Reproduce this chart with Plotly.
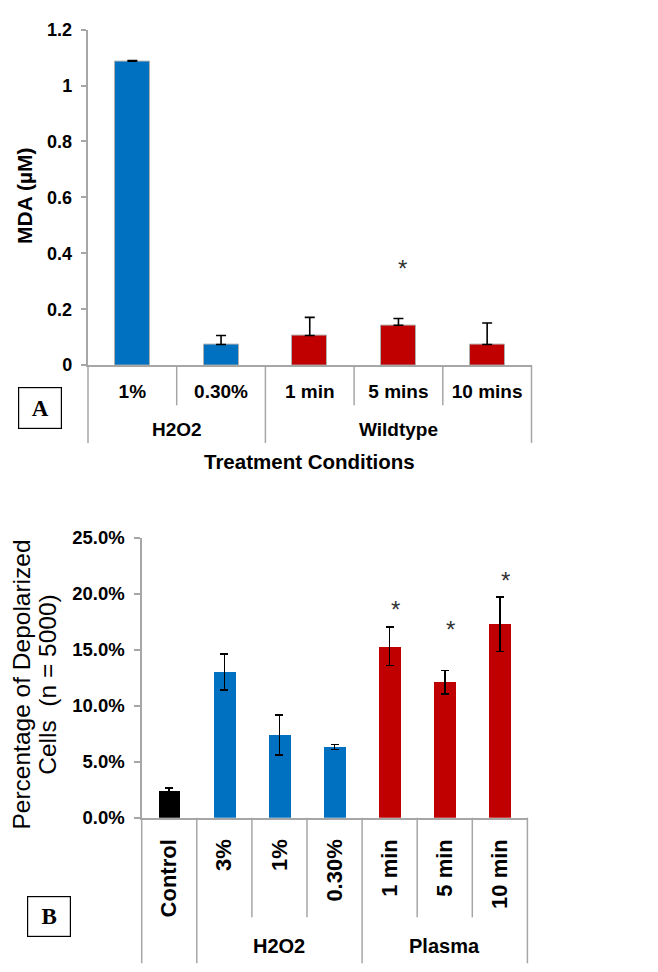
import plotly.graph_objects as go

# ---------------- Panel A data ----------------
a_labels = ["1%", "0.30%", "1 min", "5 mins", "10 mins"]
a_groups = ["H2O2", "H2O2", "Wildtype", "Wildtype", "Wildtype"]
a_values = [1.087, 0.074, 0.106, 0.143, 0.074]
a_errors = [0.002, 0.032, 0.065, 0.024, 0.077]
a_colors = ["#0070C0", "#0070C0", "#C00000", "#C00000", "#C00000"]
a_star_y = [None, None, None, 0.35, None]
a_ticks = [0, 0.2, 0.4, 0.6, 0.8, 1.0, 1.2]

# ---------------- Panel B data ----------------
b_labels = ["Control", "3%", "1%", "0.30%", "1 min", "5 min", "10 min"]
b_groups = ["", "H2O2", "H2O2", "H2O2", "Plasma", "Plasma", "Plasma"]
b_values = [0.0243, 0.130, 0.0738, 0.0631, 0.1530, 0.1210, 0.1728]
b_errors = [0.0021, 0.016, 0.018, 0.0022, 0.017, 0.0105, 0.0245]
b_colors = ["#000000", "#0070C0", "#0070C0", "#0070C0", "#C00000", "#C00000", "#C00000"]
b_star_y = [None, None, None, None, 0.1902, 0.1728, 0.2164]
b_ticks = [0, 0.05, 0.10, 0.15, 0.20, 0.25]

W, H = 658, 972
GRAY = "#a6a6a6"
FONT = "Liberation Sans"

a_range = [-0.5, len(a_labels) - 0.5]
b_range = [-0.5, len(b_labels) - 0.5]

fig = go.Figure()
fig.add_trace(go.Bar(
    x=a_labels, y=a_values, width=0.395,
    marker=dict(color=a_colors, line=dict(color="#b0b0b0", width=1)),
    error_y=dict(type="data", array=a_errors, arrayminus=[0] * len(a_errors),
                 symmetric=False, color="black", thickness=1.6, width=5),
    xaxis="x", yaxis="y", showlegend=False))
fig.add_trace(go.Bar(
    x=b_labels, y=b_values, width=0.395,
    marker=dict(color=b_colors, line=dict(width=0)),
    error_y=dict(type="data", array=b_errors, color="black", thickness=1.6, width=4),
    xaxis="x2", yaxis="y2", showlegend=False))

bold = dict(family=FONT, color="black", weight="bold")

fig.update_layout(
    width=W, height=H, margin=dict(l=0, r=0, t=0, b=0),
    paper_bgcolor="white", plot_bgcolor="white", bargap=0,
    xaxis=dict(domain=[88 / W, 531.5 / W], range=a_range, type="category",
               showline=True, linecolor=GRAY, linewidth=1.5, ticks="",
               showgrid=False, tickfont=dict(bold, size=19),
               ticklabelstandoff=8, fixedrange=True),
    yaxis=dict(domain=[610 / H, 953 / H], range=[0, 1.2], tickvals=a_ticks,
               showline=True, linecolor=GRAY, linewidth=1.5, ticks="outside",
               ticklen=5.5, tickwidth=1.5, tickcolor=GRAY, showgrid=False,
               zeroline=False, tickfont=dict(bold, size=18), ticklabelstandoff=5),
    xaxis2=dict(domain=[141.7 / W, 527.4 / W], range=b_range, type="category",
                showline=True, linecolor=GRAY, linewidth=1.5, ticks="",
                showgrid=False, tickangle=-90, tickfont=dict(bold, size=22),
                ticklabelstandoff=11, anchor="y2"),
    yaxis2=dict(domain=[147.5 / H, 433.7 / H], range=[0, 0.25], tickvals=b_ticks,
                tickformat=".1%", showline=True, linecolor=GRAY, linewidth=1.5,
                ticks="outside", ticklen=5.5, tickwidth=1.5, tickcolor=GRAY,
                showgrid=False, zeroline=False, tickfont=dict(bold, size=18.5),
                ticklabelstandoff=6, anchor="x2"),
)


def frac(v, rng):
    return (v - rng[0]) / (rng[1] - rng[0])


def dividers(groups, rng, xref, yref, inner_len, outer_len):
    n = len(groups)
    for k in range(n + 1):
        f = frac(k - 0.5, rng)
        outer = k == 0 or k == n or groups[k - 1] != groups[k]
        y1 = -outer_len if outer else -inner_len
        fig.add_shape(type="line", xref=xref, yref=yref, x0=f, x1=f, y0=0, y1=y1,
                      line=dict(color=GRAY, width=1.5))


dividers(a_groups, a_range, "x domain", "y domain", 0.1195, 0.232)
dividers(b_groups, b_range, "x2 domain", "y2 domain", 0.356, 0.52)


def group_labels(groups, xref, ypaper, size):
    seen = []
    for g in groups:
        if g and g not in seen:
            seen.append(g)
    for g in seen:
        idx = [i for i, gg in enumerate(groups) if gg == g]
        xc = sum(idx) / len(idx)
        fig.add_annotation(x=xc, xref=xref, y=ypaper, yref="paper", text=g,
                           showarrow=False, xanchor="center", yanchor="middle",
                           font=dict(bold, size=size))


group_labels(a_groups, "x", (H - 428) / H, 19)
group_labels(b_groups, "x2", (H - 956) / H, 20)

fig.add_annotation(x=(len(a_labels) - 1) / 2, xref="x", y=(H - 460) / H, yref="paper",
                   text="Treatment Conditions", showarrow=False,
                   xanchor="center", yanchor="middle", font=dict(bold, size=20.5))

# significance stars
for lab, sy in zip(a_labels, a_star_y):
    if sy is not None:
        fig.add_annotation(x=lab, y=sy, xref="x", yref="y", text="*", showarrow=False,
                           xshift=4, yshift=-1, font=dict(family=FONT, size=24, color="#333333"))
for lab, sy in zip(b_labels, b_star_y):
    if sy is not None:
        fig.add_annotation(x=lab, y=sy, xref="x2", yref="y2", text="*", showarrow=False,
                           xshift=6, yshift=-5, font=dict(family=FONT, size=24, color="#333333"))

# y-axis titles
fig.add_annotation(x=25 / W, y=(H - 189) / H, xref="paper", yref="paper",
                   text="MDA (µM)", textangle=-90, showarrow=False,
                   xanchor="center", yanchor="middle", font=dict(bold, size=21))
fig.add_annotation(x=21.4 / W, y=(H - 688) / H, xref="paper", yref="paper",
                   text="Percentage of Depolarized", textangle=-90,
                   showarrow=False, xanchor="center", yanchor="middle",
                   font=dict(family=FONT, size=24.5, color="black"))
fig.add_annotation(x=47.6 / W, y=(H - 689) / H, xref="paper", yref="paper",
                   text="Cells\u00a0 (n = 5000)", textangle=-90,
                   showarrow=False, xanchor="center", yanchor="middle",
                   font=dict(family=FONT, size=24.5, color="black"))

# panel letters
fig.add_annotation(x=40 / W, y=(H - 406) / H, xref="paper", yref="paper", text="A",
                   showarrow=False, xanchor="center", yanchor="middle", width=42, height=40,
                   borderpad=0, bordercolor="black", borderwidth=1.2,
                   font=dict(family="Liberation Serif", size=23, color="black", weight="bold"))
fig.add_annotation(x=49 / W, y=(H - 925.5) / H, xref="paper", yref="paper", text="B",
                   showarrow=False, xanchor="center", yanchor="middle", width=42, height=39,
                   borderpad=0, bordercolor="black", borderwidth=1.2,
                   font=dict(family="Liberation Serif", size=23, color="black", weight="bold"))

fig.write_html("out.html")
